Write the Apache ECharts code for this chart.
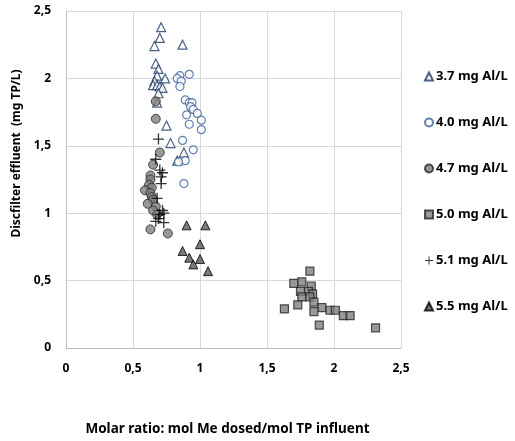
<!DOCTYPE html>
<html><head><meta charset="utf-8">
<script src="https://cdn.jsdelivr.net/npm/echarts@6/dist/echarts.min.js"></script>
<style>html,body{margin:0;padding:0;background:#fff}#c{width:515px;height:441px}</style>
</head><body><div id="c"></div>
<script>
const seriesNames = ['3.7 mg Al/L','4.0 mg Al/L','4.7 mg Al/L','5.0 mg Al/L','5.1 mg Al/L','5.5 mg Al/L'];
const xTicks = [0,0.5,1,1.5,2,2.5];
const yTicks = [0,0.5,1,1.5,2,2.5];
const al37 = [[0.71,2.38],[0.70,2.30],[0.66,2.24],[0.87,2.25],[0.67,2.11],[0.69,2.07],[0.68,2.02],[0.74,2.00],[0.66,1.98],[0.65,1.95],[0.68,1.95],[0.70,1.94],[0.72,1.93],[0.69,1.89],[0.68,1.82],[0.75,1.65],[0.78,1.52],[0.88,1.45],[0.83,1.39]];
const al40 = [[0.92,2.03],[0.85,2.02],[0.83,2.00],[0.86,1.98],[0.85,1.94],[0.89,1.84],[0.92,1.82],[0.94,1.82],[0.93,1.79],[0.95,1.77],[0.90,1.73],[0.98,1.74],[1.01,1.69],[0.92,1.66],[1.01,1.62],[0.87,1.54],[0.95,1.47],[0.89,1.39],[0.84,1.38],[0.88,1.22]];
const al47 = [[0.67,1.83],[0.67,1.70],[0.70,1.45],[0.65,1.36],[0.63,1.28],[0.63,1.25],[0.62,1.21],[0.64,1.19],[0.59,1.17],[0.63,1.15],[0.64,1.12],[0.65,1.10],[0.61,1.07],[0.67,1.05],[0.65,1.02],[0.68,0.99],[0.63,0.88],[0.76,0.85]];
const al50 = [[1.82,0.57],[1.70,0.48],[1.76,0.49],[1.83,0.46],[1.75,0.42],[1.81,0.42],[1.84,0.40],[1.76,0.38],[1.82,0.38],[1.85,0.34],[1.73,0.32],[1.63,0.29],[1.91,0.30],[1.85,0.27],[1.97,0.28],[2.01,0.28],[1.89,0.17],[2.07,0.24],[2.12,0.24],[2.31,0.15]];
const al51 = [[0.69,1.55],[0.67,1.40],[0.70,1.32],[0.72,1.30],[0.71,1.27],[0.71,1.22],[0.68,1.11],[0.72,1.02],[0.73,1.00],[0.70,0.99],[0.69,0.96],[0.73,0.93],[0.67,0.94]];
const al55 = [[0.90,0.91],[1.04,0.91],[1.00,0.77],[0.87,0.72],[0.92,0.67],[0.95,0.62],[1.00,0.66],[1.06,0.57]];

const FONT = 'Noto Sans';
const fmt = v => String(v).replace('.', ',');
const plus = 'path://M4.4,0H5.6V4.4H10V5.6H5.6V10H4.4V5.6H0V4.4H4.4Z';

const styles = [
  {data: al37, symbol: 'triangle', size: 9, item: {color: '#ffffff', borderColor: '#1f3864', borderWidth: 1.2}},
  {data: al40, symbol: 'circle', size: 8, item: {color: '#ffffff', borderColor: '#3b5f98', borderWidth: 1.2}},
  {data: al47, symbol: 'circle', size: 9, item: {color: '#7f7f7f', borderColor: '#262626', borderWidth: 1}},
  {data: al50, symbol: 'rect', size: 8, item: {color: '#7f7f7f', borderColor: '#262626', borderWidth: 1.2}},
  {data: al51, symbol: plus, size: 11, item: {color: '#000000', borderWidth: 0}},
  {data: al55, symbol: 'triangle', size: 9, item: {color: '#595959', borderColor: '#000000', borderWidth: 1}}
];

const chart = echarts.init(document.getElementById('c'), null, {renderer: 'canvas'});
chart.setOption({
  animation: false,
  backgroundColor: '#ffffff',
  grid: {left: 66, right: 114, top: 11, bottom: 87, containLabel: false},
  xAxis: {
    type: 'value', min: xTicks[0], max: xTicks[xTicks.length-1], interval: 0.5,
    axisLine: {show: true, lineStyle: {color: '#bfbfbf', width: 1}},
    axisTick: {show: false},
    splitLine: {show: true, lineStyle: {color: '#d9d9d9', width: 1}},
    axisLabel: {formatter: fmt, fontFamily: FONT, fontWeight: 'bold', fontSize: 12, color: '#000', margin: 15},
    name: 'Molar ratio: mol Me dosed/mol TP influent', nameLocation: 'middle', nameGap: 74,
    nameTextStyle: {fontFamily: FONT, fontWeight: 'bold', fontSize: 13.5, color: '#000', padding: [0, 12, 0, 0]}
  },
  yAxis: {
    type: 'value', min: yTicks[0], max: yTicks[yTicks.length-1], interval: 0.5,
    axisLine: {show: true, lineStyle: {color: '#bfbfbf', width: 1}},
    axisTick: {show: false},
    splitLine: {show: true, lineStyle: {color: '#d9d9d9', width: 1}},
    axisLabel: {formatter: fmt, fontFamily: FONT, fontWeight: 'bold', fontSize: 12, color: '#000', margin: 15},
    name: 'Discfilter effluent  (mg TP/L)', nameLocation: 'middle', nameGap: 42,
    nameTextStyle: {fontFamily: FONT, fontWeight: 'bold', fontSize: 12, color: '#000', padding: [0, 0, 0, 52]}
  },
  legend: {
    orient: 'vertical', left: 419, top: 65, itemGap: 33,
    itemWidth: 8, itemHeight: 8,
    textStyle: {fontFamily: FONT, fontWeight: 'bold', fontSize: 13, color: '#000', padding: [0, 0, 0, -2]},
    data: seriesNames.map((n, i) => ({name: n, icon: styles[i].symbol}))
  },
  series: styles.map((s, i) => ({
    name: seriesNames[i], type: 'scatter', data: s.data,
    symbol: s.symbol, symbolSize: s.size, itemStyle: s.item
  }))
});
</script></body></html>
